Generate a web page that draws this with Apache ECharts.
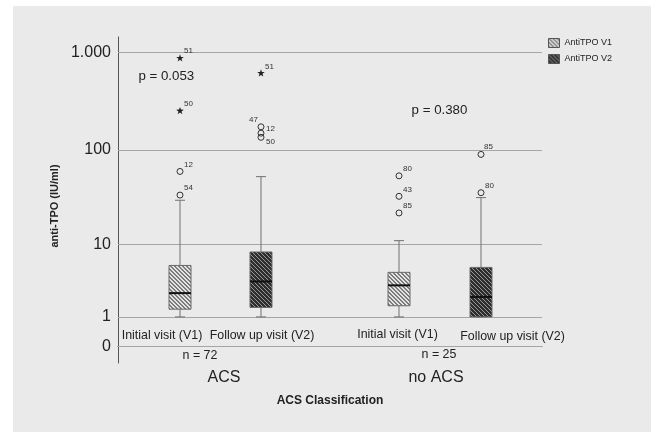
<!DOCTYPE html>
<html><head><meta charset="utf-8">
<script src="https://cdn.jsdelivr.net/npm/echarts@6/dist/echarts.min.js"></script>
<style>html,body{margin:0;padding:0;background:#fff}#c{width:651px;height:432px}</style>
</head><body><div id="c"></div>
<script>
// ---------- data ----------
const categories = ['ACS', 'no ACS'];
const seriesNames = ['AntiTPO V1', 'AntiTPO V2'];
const visitLabels = ['Initial visit (V1)', 'Follow up visit (V2)'];
const groupSizes = ['n = 72', 'n = 25'];
const pValues = ['p = 0.053', 'p = 0.380'];
const yTickValues = [0, 1, 10, 100, 1000];
const yTickLabels = ['0', '1', '10', '100', '1.000'];
// [min, Q1, median, Q3, max] per category (IU/ml)
const v1Boxes = [[1, 1.4, 2.5, 5.7, 30], [1, 1.6, 3.2, 4.7, 11]];
const v2Boxes = [[1, 1.5, 3.6, 8.2, 53], [1, 1, 2.2, 5.4, 32]];
// outliers: [categoryIndex, value, case label]
const v1Outliers = [[0, 34, '54'], [0, 60, '12'], [1, 54, '80'], [1, 33, '43'], [1, 22, '85']];
const v2Outliers = [[0, 173, '47'], [0, 149, '12'], [0, 135, '50'], [1, 36, '80'], [1, 90, '85']];
// extreme values (stars): [categoryIndex, value, case label]
const v1Extremes = [[0, 252, '50'], [0, 870, '51']];
const v2Extremes = [[0, 610, '51']];

// ---------- styling / layout ----------
const FONT = '"Liberation Sans", Arial, sans-serif';
const TXT = '#222';
const v1Offsets = [-0.2075, -0.1745];   // fraction of category band
const v2Offsets = [0.1745, 0.2123];
const BOX_W = 22, CAP_W = 10;
const DEFAULT_SHIFT = [4, -7, 'left'];
const v2OutlierShifts = [[-3, -7, 'right'], [5, -4, 'left'], [5, 4, 'left'], DEFAULT_SHIFT, [3, -8, 'left']];

const T = v => Math.log10(v + 1);

function makePattern(bg, fg, period, stripe) {
  const cv = document.createElement('canvas');
  cv.width = period; cv.height = period;
  const ctx = cv.getContext('2d');
  const img = ctx.createImageData(period, period);
  const parse = h => [parseInt(h.slice(1, 3), 16), parseInt(h.slice(3, 5), 16), parseInt(h.slice(5, 7), 16)];
  const b = parse(bg), f = parse(fg);
  for (let y = 0; y < period; y++) for (let x = 0; x < period; x++) {
    const k = ((x - y) % period + period) % period;
    const c = k < stripe ? f : b;
    const i = (y * period + x) * 4;
    img.data[i] = c[0]; img.data[i + 1] = c[1]; img.data[i + 2] = c[2]; img.data[i + 3] = 255;
  }
  ctx.putImageData(img, 0, 0);
  return { image: cv, repeat: 'repeat' };
}
const patV1 = makePattern('#e4e4e4', '#7c7c7c', 4, 2);
const patV2 = makePattern('#2e2e2e', '#999999', 4, 1);

function boxItem(offsets, pattern) {
  return (params, api) => {
    const c = api.value(0);
    const band = api.size([1, 0])[0];
    const cx = api.coord([c, 0])[0] + offsets[c] * band;
    const y = i => api.coord([c, api.value(i)])[1];
    const yMin = y(1), yQ1 = y(2), yMed = y(3), yQ3 = y(4), yMax = y(5);
    const hw = BOX_W / 2, cw = CAP_W / 2;
    const ls = { stroke: '#707070', lineWidth: 1 };
    return { type: 'group', children: [
      { type: 'line', shape: { x1: cx, y1: yMax, x2: cx, y2: yQ3 }, style: ls },
      { type: 'line', shape: { x1: cx, y1: yQ1, x2: cx, y2: yMin }, style: ls },
      { type: 'line', shape: { x1: cx - cw, y1: yMax, x2: cx + cw, y2: yMax }, style: ls },
      { type: 'line', shape: { x1: cx - cw, y1: yMin, x2: cx + cw, y2: yMin }, style: ls },
      { type: 'rect', shape: { x: cx - hw, y: yQ3, width: 2 * hw, height: yQ1 - yQ3 }, style: { fill: pattern, stroke: '#6a6a6a', lineWidth: 1 } },
      { type: 'line', shape: { x1: cx - hw, y1: yMed, x2: cx + hw, y2: yMed }, style: { stroke: '#111', lineWidth: 2 } }
    ] };
  };
}

function starPoints(cx, cy, R, r) {
  const pts = [];
  for (let i = 0; i < 10; i++) {
    const a = -Math.PI / 2 + i * Math.PI / 5;
    const rad = i % 2 ? r : R;
    pts.push([cx + rad * Math.cos(a), cy + rad * Math.sin(a)]);
  }
  return pts;
}

function pointItem(offsets, src, kind, shifts) {
  return (params, api) => {
    const c = api.value(0);
    const band = api.size([1, 0])[0];
    const cx = api.coord([c, 0])[0] + offsets[c] * band;
    const cy = api.coord([c, api.value(1)])[1];
    const s = (shifts && shifts[params.dataIndex]) || DEFAULT_SHIFT;
    const mark = kind === 'circle'
      ? { type: 'circle', shape: { cx, cy, r: 3 }, style: { fill: 'none', stroke: '#333', lineWidth: 1 } }
      : { type: 'polygon', shape: { points: starPoints(cx, cy, 4, 1.6) }, style: { fill: '#222' } };
    return { type: 'group', children: [mark,
      { type: 'text', x: cx + s[0], y: cy + s[1], style: { text: src[params.dataIndex][2], fill: '#333', fontSize: 8, fontFamily: FONT, align: s[2], verticalAlign: 'middle' } }
    ] };
  };
}

const boxData = boxes => boxes.map((b, i) => [i].concat(b.map(T)));
const ptData = pts => pts.map(p => [p[0], T(p[1])]);

const chart = echarts.init(document.getElementById('c'));
const option = {
  animation: false,
  backgroundColor: '#eaeaea',
  textStyle: { fontFamily: FONT },
  grid: { left: 118, right: 109, top: 37, bottom: 69 },
  legend: {
    left: 543, top: 33, orient: 'vertical', itemWidth: 11, itemHeight: 9, itemGap: 6,
    textStyle: { fontSize: 9, color: TXT, fontFamily: FONT },
    data: [
      { name: seriesNames[0], icon: 'rect', itemStyle: { color: patV1, borderColor: '#555', borderWidth: 1 } },
      { name: seriesNames[1], icon: 'rect', itemStyle: { color: patV2, borderColor: '#555', borderWidth: 1 } }
    ]
  },
  xAxis: {
    type: 'category', data: categories, boundaryGap: true,
    axisLine: { lineStyle: { color: '#555', width: 1 } },
    axisTick: { show: false },
    axisLabel: { fontSize: 16, color: TXT, margin: 7 },
    name: 'ACS Classification', nameLocation: 'middle', nameGap: 32,
    nameTextStyle: { fontWeight: 'bold', fontSize: 12, color: TXT }
  },
  yAxis: {
    type: 'value', min: -0.169, max: 3.157,
    axisLine: { show: true, lineStyle: { color: '#555', width: 1 } },
    axisTick: { show: false, customValues: yTickValues.map(T) },
    splitLine: { show: false },
    axisLabel: {
      fontSize: 16, color: TXT, margin: 7,
      customValues: yTickValues.map(T),
      formatter: v => { const i = yTickValues.findIndex(t => Math.abs(T(t) - v) < 1e-6); return i >= 0 ? yTickLabels[i] : ''; }
    },
    name: 'anti-TPO (IU/ml)', nameLocation: 'middle', nameGap: 55,
    nameTextStyle: { fontWeight: 'bold', fontSize: 11, color: TXT, padding: [0, 12, 0, 0] }
  },
  series: [
    { type: 'custom', name: seriesNames[0], data: boxData(v1Boxes), renderItem: boxItem(v1Offsets, patV1), itemStyle: { color: patV1 }, z: 3,
      markLine: { silent: true, symbol: 'none', label: { show: false }, z: 1,
        lineStyle: { color: '#a5a5a5', width: 1, type: 'solid' },
        data: yTickValues.map(v => ({ yAxis: T(v) })) } },
    { type: 'custom', name: seriesNames[1], data: boxData(v2Boxes), renderItem: boxItem(v2Offsets, patV2), itemStyle: { color: patV2 }, z: 3 },
    { type: 'custom', name: 'V1 outliers', data: ptData(v1Outliers), renderItem: pointItem(v1Offsets, v1Outliers, 'circle'), z: 4 },
    { type: 'custom', name: 'V2 outliers', data: ptData(v2Outliers), renderItem: pointItem(v2Offsets, v2Outliers, 'circle', v2OutlierShifts), z: 4 },
    { type: 'custom', name: 'V1 extremes', data: ptData(v1Extremes), renderItem: pointItem(v1Offsets, v1Extremes, 'star'), z: 4 },
    { type: 'custom', name: 'V2 extremes', data: ptData(v2Extremes), renderItem: pointItem(v2Offsets, v2Extremes, 'star'), z: 4 }
  ],
  graphic: [
    { type: 'rect', left: 0, top: 0, shape: { width: 651, height: 6 }, style: { fill: '#fff' }, silent: true },
    { type: 'rect', left: 0, top: 0, shape: { width: 13, height: 432 }, style: { fill: '#fff' }, silent: true },
    { type: 'text', x: 162, y: 336, style: { text: visitLabels[0], fontSize: 12.4, fill: TXT, fontFamily: FONT, align: 'center', verticalAlign: 'middle' } },
    { type: 'text', x: 262, y: 336, style: { text: visitLabels[1], fontSize: 12.4, fill: TXT, fontFamily: FONT, align: 'center', verticalAlign: 'middle' } },
    { type: 'text', x: 397.5, y: 334.3, style: { text: visitLabels[0], fontSize: 12.4, fill: TXT, fontFamily: FONT, align: 'center', verticalAlign: 'middle' } },
    { type: 'text', x: 512.5, y: 336.7, style: { text: visitLabels[1], fontSize: 12.4, fill: TXT, fontFamily: FONT, align: 'center', verticalAlign: 'middle' } },
    { type: 'text', x: 200, y: 355.3, style: { text: groupSizes[0], fontSize: 12.4, fill: TXT, fontFamily: FONT, align: 'center', verticalAlign: 'middle' } },
    { type: 'text', x: 439, y: 355, style: { text: groupSizes[1], fontSize: 12.4, fill: TXT, fontFamily: FONT, align: 'center', verticalAlign: 'middle' } },
    { type: 'text', x: 166.3, y: 76.7, style: { text: pValues[0], fontSize: 13.3, fill: TXT, fontFamily: FONT, align: 'center', verticalAlign: 'middle' } },
    { type: 'text', x: 439.5, y: 110.7, style: { text: pValues[1], fontSize: 13.3, fill: TXT, fontFamily: FONT, align: 'center', verticalAlign: 'middle' } }
  ]
};
chart.setOption(option);
</script>
</body></html>
